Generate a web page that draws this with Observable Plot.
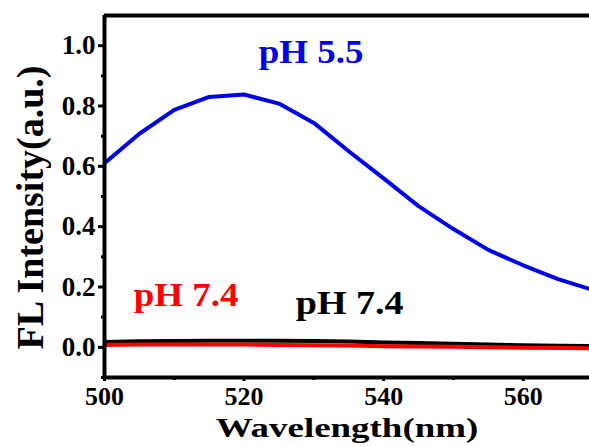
<!DOCTYPE html>
<html><head><meta charset="utf-8">
<script src="https://cdn.jsdelivr.net/npm/d3@7"></script>
<script src="https://cdn.jsdelivr.net/npm/@observablehq/plot@0.6"></script>
<style>
body{margin:0;background:#fff}
svg{display:block}
</style>
</head><body><div id="chart"></div>
<script>
// Data
const wavelengths = [500,505,510,515,520,525,530,535,540,545,550,555,560,565,570];
const ph55 = [0.61,0.708,0.787,0.83,0.838,0.808,0.744,0.65,0.56,0.468,0.392,0.323,0.272,0.226,0.19];
const ph74Black = [0.018,0.02,0.021,0.022,0.022,0.022,0.021,0.019,0.016,0.014,0.012,0.009,0.007,0.005,0.004];
const ph74Red = [0.008,0.009,0.009,0.009,0.009,0.008,0.007,0.006,0.004,0.003,0.002,0.0,-0.001,-0.002,-0.003];
const yTicks = [0,0.2,0.4,0.6,0.8,1.0];
const yMinorTicks = [-0.1,0.1,0.3,0.5,0.7,0.9];
const xTicks = [500,520,540,560];
const xMinorTicks = [510,530,550];
const seriesLabels = ["pH 5.5","pH 7.4","pH 7.4"];
const xTitle = "Wavelength(nm)";
const yTitle = "FL Intensity(a.u.)";

const rows = (vals) => wavelengths.map((w,i)=>({w, v: vals[i]}));

const font = "'Liberation Serif','Times New Roman',serif";

const plot = Plot.plot({
  width: 589,
  height: 446,
  marginTop: 15,
  marginRight: 0,
  marginBottom: 69,
  marginLeft: 104,
  style: {fontFamily: font, fontWeight: "bold", background: "#fff", color: "#000", overflow: "visible"},
  x: {type: "linear", domain: [500, 569.5]},
  y: {type: "linear", domain: [-0.1, 1.1]},
  marks: [
    Plot.line(rows(ph55), {x: "w", y: "v", stroke: "#0000f0", strokeWidth: 4, clip: true}),
    Plot.line(rows(ph74Black), {x: "w", y: "v", stroke: "#000", strokeWidth: 4, clip: true}),
    Plot.line(rows(ph74Red), {x: "w", y: "v", stroke: "#ff0000", strokeWidth: 4, clip: true}),
    Plot.ruleY([1.1], {stroke: "#000", strokeWidth: 4}),
    Plot.ruleY([-0.1], {stroke: "#000", strokeWidth: 4}),
    Plot.ruleX([500], {stroke: "#000", strokeWidth: 4}),
    Plot.axisY(yTicks, {tickSize: 6, tickPadding: 3, strokeWidth: 3, tickFormat: d3.format(".1f"), fontSize: 27, fontWeight: "bold", label: null}),
    Plot.axisY(yMinorTicks, {tickSize: 3, strokeWidth: 3, tickFormat: () => "", label: null}),
    Plot.axisX(xTicks, {tickSize: 4, tickPadding: 5, strokeWidth: 3, fontSize: 26, fontWeight: "bold", label: null}),
    Plot.axisX(xMinorTicks, {tickSize: 3, strokeWidth: 3, tickFormat: () => "", label: null}),
    Plot.text([seriesLabels[0]], {x: 522.1, y: 0.943, textAnchor: "start", lineAnchor: "bottom", fill: "#0000f0", fontSize: 33, fontWeight: "bold"}),
    Plot.text([seriesLabels[1]], {x: 504.2, y: 0.136, textAnchor: "start", lineAnchor: "bottom", fill: "#ff0000", fontSize: 33, fontWeight: "bold"}),
    Plot.text([seriesLabels[2]], {x: 527.4, y: 0.11, textAnchor: "start", lineAnchor: "bottom", fill: "#000", fontSize: 34, fontWeight: "bold"}),
    Plot.text([xTitle], {frameAnchor: "bottom", textAnchor: "middle", dy: 59, lineAnchor: "bottom", fontSize: 28, fontWeight: "bold", fill: "#000"}),
    Plot.text([yTitle], {frameAnchor: "left", textAnchor: "middle", rotate: -90, dx: -62, dy: 11, lineAnchor: "bottom", fontSize: 38, fontWeight: "bold", fill: "#000"})
  ]
});

// reference text: heavy serif; the pH labels and x title look slightly wide
plot.querySelectorAll("text").forEach(t => {
  const s = t.textContent;
  const g = t.closest("g[aria-label]");
  const label = g ? (g.getAttribute("aria-label") || "") : "";
  t.style.fontFamily = font;
  t.style.fontWeight = "bold";
  if (/y-axis tick label/.test(label)) { t.style.fontSize = "27px"; return; }
  if (/x-axis tick label/.test(label)) { t.style.fontSize = "26px"; return; }
  let k = 1;
  if (s.startsWith("pH")) k = 1.12;
  if (s === xTitle) k = 1.32;
  if (k === 1) return;
  const tr = t.getAttribute("transform");
  if (tr) {
    if (tr.includes("rotate")) return;
    t.setAttribute("transform", tr + ` scale(${k},1)`);
  } else {
    const x = +(t.getAttribute("x") || 0), y = +(t.getAttribute("y") || 0);
    t.setAttribute("transform", `translate(${x},${y}) scale(${k},1) translate(${-x},${-y})`);
  }
});

document.getElementById("chart").appendChild(plot);
</script>
</body></html>
